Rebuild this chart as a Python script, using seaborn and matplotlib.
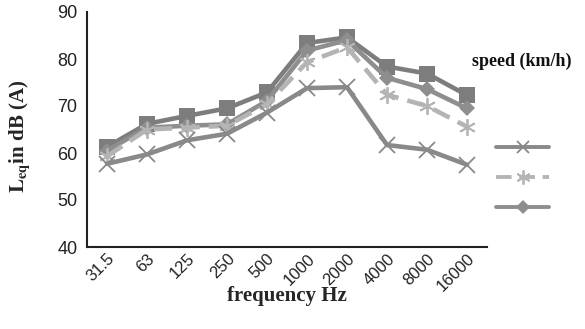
import matplotlib
matplotlib.use("Agg")
import matplotlib.pyplot as plt
import seaborn as sns
import pandas as pd

# Octave-band centre frequencies (Hz)
freqs = ["31.5", "63", "125", "250", "500", "1000", "2000", "4000", "8000", "16000"]

# Leq in dB(A) for each speed series
leq_square = [61.3, 66.2, 67.9, 69.5, 72.9, 83.4, 84.6, 78.4, 76.9, 72.3]
leq_diamond = [60.5, 65.4, 65.8, 66.1, 71.1, 81.8, 84.0, 76.0, 73.6, 69.5]
leq_star = [59.3, 65.0, 65.4, 65.8, 70.4, 79.3, 82.5, 72.4, 70.0, 65.6]
leq_cross = [57.7, 59.7, 62.7, 64.1, 68.6, 73.8, 74.0, 61.7, 60.7, 57.5]

series_names = ["s4", "s3", "s2", "s1"]
series_values = [leq_square, leq_diamond, leq_star, leq_cross]

df = pd.DataFrame({
    "freq": freqs * len(series_names),
    "leq": [v for vals in series_values for v in vals],
    "series": [n for n in series_names for _ in freqs],
})

sns.set_style("white")
plt.rcParams["mathtext.fontset"] = "stix"

fig = plt.figure(figsize=(5.85, 3.29), dpi=100)
ax = fig.add_axes([87 / 585, 1 - 247 / 329, 400 / 585, 235 / 329])

styles = {
    "s4": dict(color="#7d7d7d", marker="s", ms=11.5, ls="-", lw=3.3, mew=0),
    "s3": dict(color="#8e8e8e", marker="D", ms=8.5, ls="-", lw=3.3, mew=0),
    "s2": dict(color="#b4b4b4", marker=(6, 2, 0), ms=12, ls=(0, (4, 2)), lw=3.3, mew=1.3),
    "s1": dict(color="#898989", marker="x", ms=11, ls="-", lw=3.3, mew=1.3),
}

handles = {}
for name in series_names:
    sub = df[df["series"] == name]
    st = styles[name]
    sns.lineplot(data=sub, x="freq", y="leq", ax=ax, sort=False,
                 color=st["color"], lw=st["lw"], ls=st["ls"],
                 marker=st["marker"], markersize=st["ms"],
                 markeredgewidth=st["mew"], markeredgecolor=st["color"],
                 legend=False)
    handles[name] = plt.Line2D([], [], color=st["color"], lw=2.8, ls=st["ls"],
                               marker=st["marker"], markersize=st["ms"] * 0.85,
                               markeredgewidth=st["mew"], markeredgecolor=st["color"])

ax.set_xlim(-0.5, len(freqs) - 0.5)
ax.set_ylim(40, 90)
ax.set_yticks([40, 50, 60, 70, 80, 90])
ax.tick_params(axis="y", direction="out", length=5, width=1, labelsize=13, pad=2)
ax.tick_params(axis="x", length=0, labelsize=12, pad=3)
for lab in ax.get_yticklabels() + ax.get_xticklabels():
    lab.set_fontfamily("Liberation Sans")
    lab.set_color("#222222")
plt.setp(ax.get_xticklabels(), rotation=45, ha="right", rotation_mode="anchor")

for side in ["top", "right"]:
    ax.spines[side].set_visible(False)
for side in ["left", "bottom"]:
    ax.spines[side].set_color("#222222")
    ax.spines[side].set_linewidth(1.5)

ax.set_xlabel("frequency Hz", fontfamily="Liberation Serif", fontweight="bold",
              fontsize=15, va="top")
ax.set_ylabel(r"$\mathbf{L_{eq}}$in dB (A)", fontfamily="Liberation Serif",
              fontweight="bold", fontsize=15)
ax.xaxis.set_label_coords(0.5, -0.165)
ax.yaxis.set_label_coords(-0.135, 0.47)

fig.text(522 / 585, 1 - 61 / 329, "speed (km/h)", fontfamily="Liberation Serif",
         fontweight="bold", fontsize=13, ha="center", va="center", color="#111111")

fig.legend([handles["s1"], handles["s2"], handles["s3"]], ["", "", ""],
           loc="upper left", bbox_to_anchor=(484 / 585, 1 - 128 / 329),
           frameon=False, handlelength=3.8, labelspacing=1.15, handletextpad=0)

fig.savefig("out.png", dpi=100)
